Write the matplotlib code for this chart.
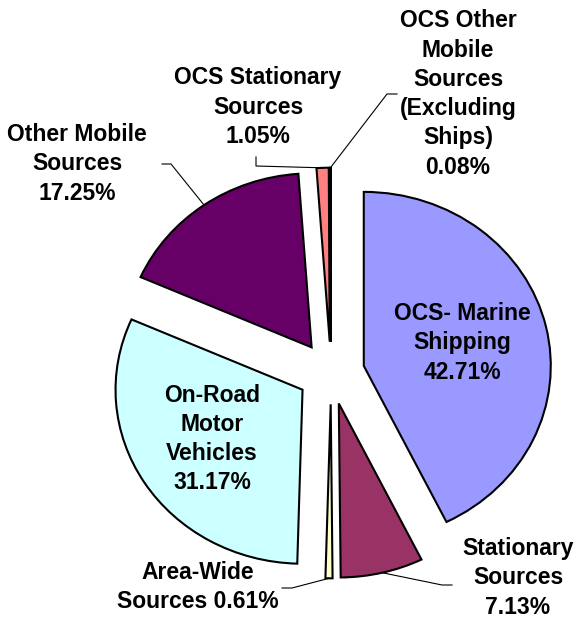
import matplotlib
matplotlib.use('Agg')
import matplotlib.pyplot as plt
import numpy as np

# ------------------------------
#   Data
# ------------------------------
sources = ["OCS- Marine\nShipping", "Stationary\nSources", "Area-Wide\nSources",
           "On-Road\nMotor\nVehicles", "Other Mobile\nSources", "OCS Stationary\nSources",
           "OCS Other\nMobile\nSources\n(Excluding\nShips)"]
shares = [42.71, 7.13, 0.61, 31.17, 17.25, 1.05, 0.08]
colors = ["#9999FF", "#993366", "#FFFFCC", "#CCFFFF", "#660066", "#FF8080", "#0066CC"]

# ------------------------------
#   Layout (pixels of a 579x622 image)
# ------------------------------
W, H = 579, 622
cx, cy = 331, 373      # pie centre
rx, ry = 187, 174      # slightly stretched pie

def pt(px, py):
    return (px - cx) / rx, (cy - py) / ry

fig = plt.figure(figsize=(W / 100, H / 100), dpi=100)
ax = fig.add_axes([0, 0, 1, 1])

wedges, _ = ax.pie(shares, colors=colors, startangle=90, counterclock=False,
                   explode=[0.18] * len(shares),
                   wedgeprops=dict(edgecolor="black", linewidth=1.5))
ax.set_aspect('auto')
ax.set_xlim(pt(0, 0)[0], pt(W, 0)[0])
ax.set_ylim(pt(0, H)[1], pt(0, 0)[1])
ax.axis('off')

font = dict(family="Liberation Sans", fontweight="bold", fontsize=16.5,
            ha="center", va="center", multialignment="center", linespacing=1.35)

def label(i, pct_inline=False):
    if pct_inline:
        return sources[i] + " %.2f%%" % shares[i]
    return sources[i] + "\n%.2f%%" % shares[i]

# labels inside the slices
ax.text(*pt(462, 343), label(0), **font)
ax.text(*pt(212, 439), label(3), **font)

# labels outside with leader lines: (index, text pos, elbow, line end)
outside = [
    (1, (518, 578), (442, 585), (452, 585), False),
    (2, (198, 587), (292, 588), (282, 588), True),
    (4, (77, 164), (171, 164), (162, 164), False),
    (5, (258, 107), (256, 166), (256, 157), False),
    (6, (458, 94), (387, 94), (397, 94), False),
]
for i, tpos, elbow, end, inline in outside:
    w = wedges[i]
    mid = np.deg2rad((w.theta1 + w.theta2) / 2)
    ax0, ay0 = w.center[0] + w.r * np.cos(mid), w.center[1] + w.r * np.sin(mid)
    ex, ey = pt(*elbow)
    fx, fy = pt(*end)
    ax.plot([ax0, ex, fx], [ay0, ey, fy], color="black", linewidth=0.8)
    ax.text(*pt(*tpos), label(i, inline), **font)

plt.savefig("out.png", dpi=100)
